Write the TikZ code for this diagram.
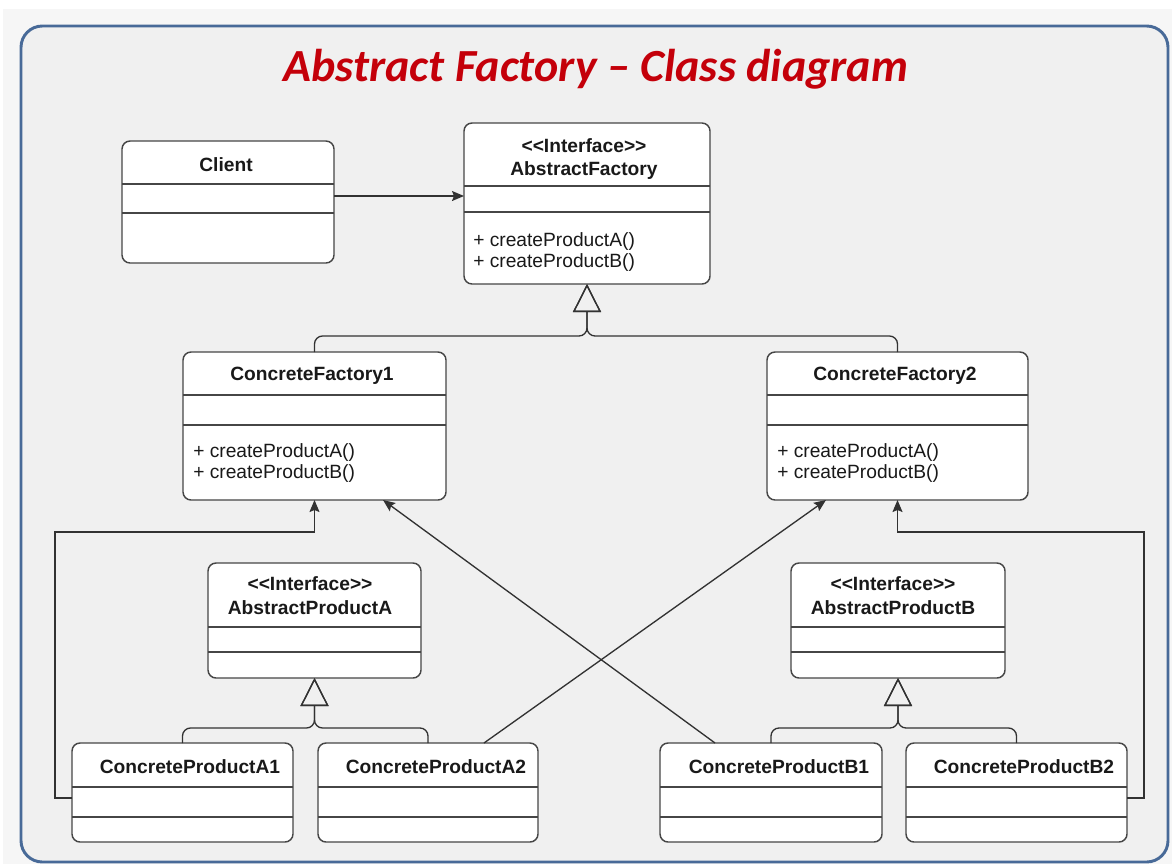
\documentclass[tikz,border=0pt]{standalone}
\usepackage{fontspec}
\setmainfont{Liberation Sans}
\newfontfamily\titlefont{Carlito}
\usetikzlibrary{arrows.meta,calc,fit}

\definecolor{pagegray}{RGB}{246,246,246}
\definecolor{panelgray}{RGB}{240,240,240}
\definecolor{frameblue}{RGB}{72,106,152}
\definecolor{titlered}{RGB}{196,0,10}
\definecolor{boxline}{RGB}{70,70,70}
\definecolor{wire}{RGB}{50,50,50}

% A UML class: name, corners (x1,y1) (x2,y2), and the two divider rows
\newcommand{\umlclass}[7]{%
  \node[classbox, fit={(#2,#3) (#4,#5)}] (#1) {};
  \draw[divider] (#2,#6) -- (#4,#6);
  \draw[divider] (#2,#7) -- (#4,#7);
}

\begin{document}
\begin{tikzpicture}[x=0.75pt,y=-0.75pt,
  classbox/.style={draw=boxline, line width=1.1pt, fill=white, rounded corners=6pt, inner sep=0pt, outer sep=0pt},
  divider/.style={draw=boxline, line width=1.1pt},
  cname/.style={font=\bfseries\fontsize{14.4pt}{17pt}\selectfont, text=black!90, anchor=base, inner sep=0pt},
  method/.style={font=\fontsize{14.4pt}{17pt}\selectfont, text=black!90, anchor=base west, inner sep=0pt},
  assoc/.style={draw=wire, line width=1pt, -{Stealth[length=9pt,width=7.5pt,inset=1.5pt]}},
  inherit/.style={draw=wire, line width=1pt, rounded corners=6pt, -{Triangle[open,length=21pt,width=21pt]}},
]
\useasboundingbox (0,0) rectangle (1172,864);

% page and panel
\fill[white] (0,0) rectangle (1172,864);
\fill[pagegray] (3,9) rectangle (1172,864);
\draw[frameblue, line width=2.2pt, fill=panelgray, rounded corners=16pt] (21,26) rectangle (1168,862);

% title
\node[font=\titlefont\bfseries\itshape\fontsize{34.5pt}{40pt}\selectfont, text=titlered, anchor=base] (title) at (596,81) {Abstract Factory – Class diagram};

% classes
\umlclass{client}{122}{141}{334}{263}{184}{213}
\umlclass{af}{464}{123}{710}{284}{186}{212}
\umlclass{cfa}{183}{352}{446}{500}{395}{425}
\umlclass{cfb}{767}{352}{1028}{500}{395}{425}
\umlclass{apa}{208}{563}{421}{678}{627}{652}
\umlclass{apb}{791}{563}{1005}{678}{627}{652}
\umlclass{cpa1}{72}{743}{293}{842}{787}{817}
\umlclass{cpa2}{318}{743}{538}{842}{787}{817}
\umlclass{cpb1}{660}{743}{882}{842}{787}{817}
\umlclass{cpb2}{906}{743}{1127}{842}{787}{817}

% class texts
\node[cname] (clientname) at (226,171) {Client};

\node[cname] (afstereo) at (584,152) {<\kern0pt<Interface>\kern0pt>};
\node[cname] (afname) at (584,175) {AbstractFactory};
\node[method] (afopa) at (473,246) {+ createProductA()};
\node[method] (afopb) at (473,267) {+ createProductB()};

\node[cname] (cfaname) at (312,380) {ConcreteFactory1};
\node[method] (cfaopa) at (193,457) {+ createProductA()};
\node[method] (cfaopb) at (193,478) {+ createProductB()};

\node[cname] (cfbname) at (895,380) {ConcreteFactory2};
\node[method] (cfbopa) at (777,457) {+ createProductA()};
\node[method] (cfbopb) at (777,478) {+ createProductB()};

\node[cname] (apastereo) at (310,590) {<\kern0pt<Interface>\kern0pt>};
\node[cname] (apaname) at (310,614) {AbstractProductA};
\node[cname] (apbstereo) at (893,590) {<\kern0pt<Interface>\kern0pt>};
\node[cname] (apbname) at (893,614) {AbstractProductB};

\node[cname] (cpa1name) at (190,773) {ConcreteProductA1};
\node[cname] (cpa2name) at (436,773) {ConcreteProductA2};
\node[cname] (cpb1name) at (779,773) {ConcreteProductB1};
\node[cname] (cpb2name) at (1024,773) {ConcreteProductB2};

% client uses the factory
\draw[assoc] ($(client.north east)+(0,55)$) -- ($(af.north west)+(0,73)$);

% realisations of the interfaces
\draw[inherit] (cfa.north) |- ($(af.south)+(0,52)$) -- (af.south);
\draw[inherit] (cfb.north) |- ($(af.south)+(0,52)$) -- (af.south);
\draw[inherit] (cpa1.north) |- ($(apa.south)+(0,50)$) -- (apa.south);
\draw[inherit] (cpa2.north) |- ($(apa.south)+(0,50)$) -- (apa.south);
\draw[inherit] (cpb1.north) |- ($(apb.south)+(0,50)$) -- (apb.south);
\draw[inherit] (cpb2.north) |- ($(apb.south)+(0,50)$) -- (apb.south);

% products created by each factory
\draw[assoc] ($(cpa1.north west)+(0,55)$) -- ++(-17,0) |- ($(cfa.south)+(0,32)$) -- (cfa.south);
\draw[assoc] ($(cpb2.north east)+(0,55)$) -- ++(17,0) |- ($(cfb.south)+(0,32)$) -- (cfb.south);
\draw[assoc] ($(cpa2.north west)+(166,0)$) -- ($(cfb.south west)+(59,0)$);
\draw[assoc] ($(cpb1.north west)+(55,0)$) -- ($(cfa.south west)+(200,0)$);
\end{tikzpicture}
\end{document}
